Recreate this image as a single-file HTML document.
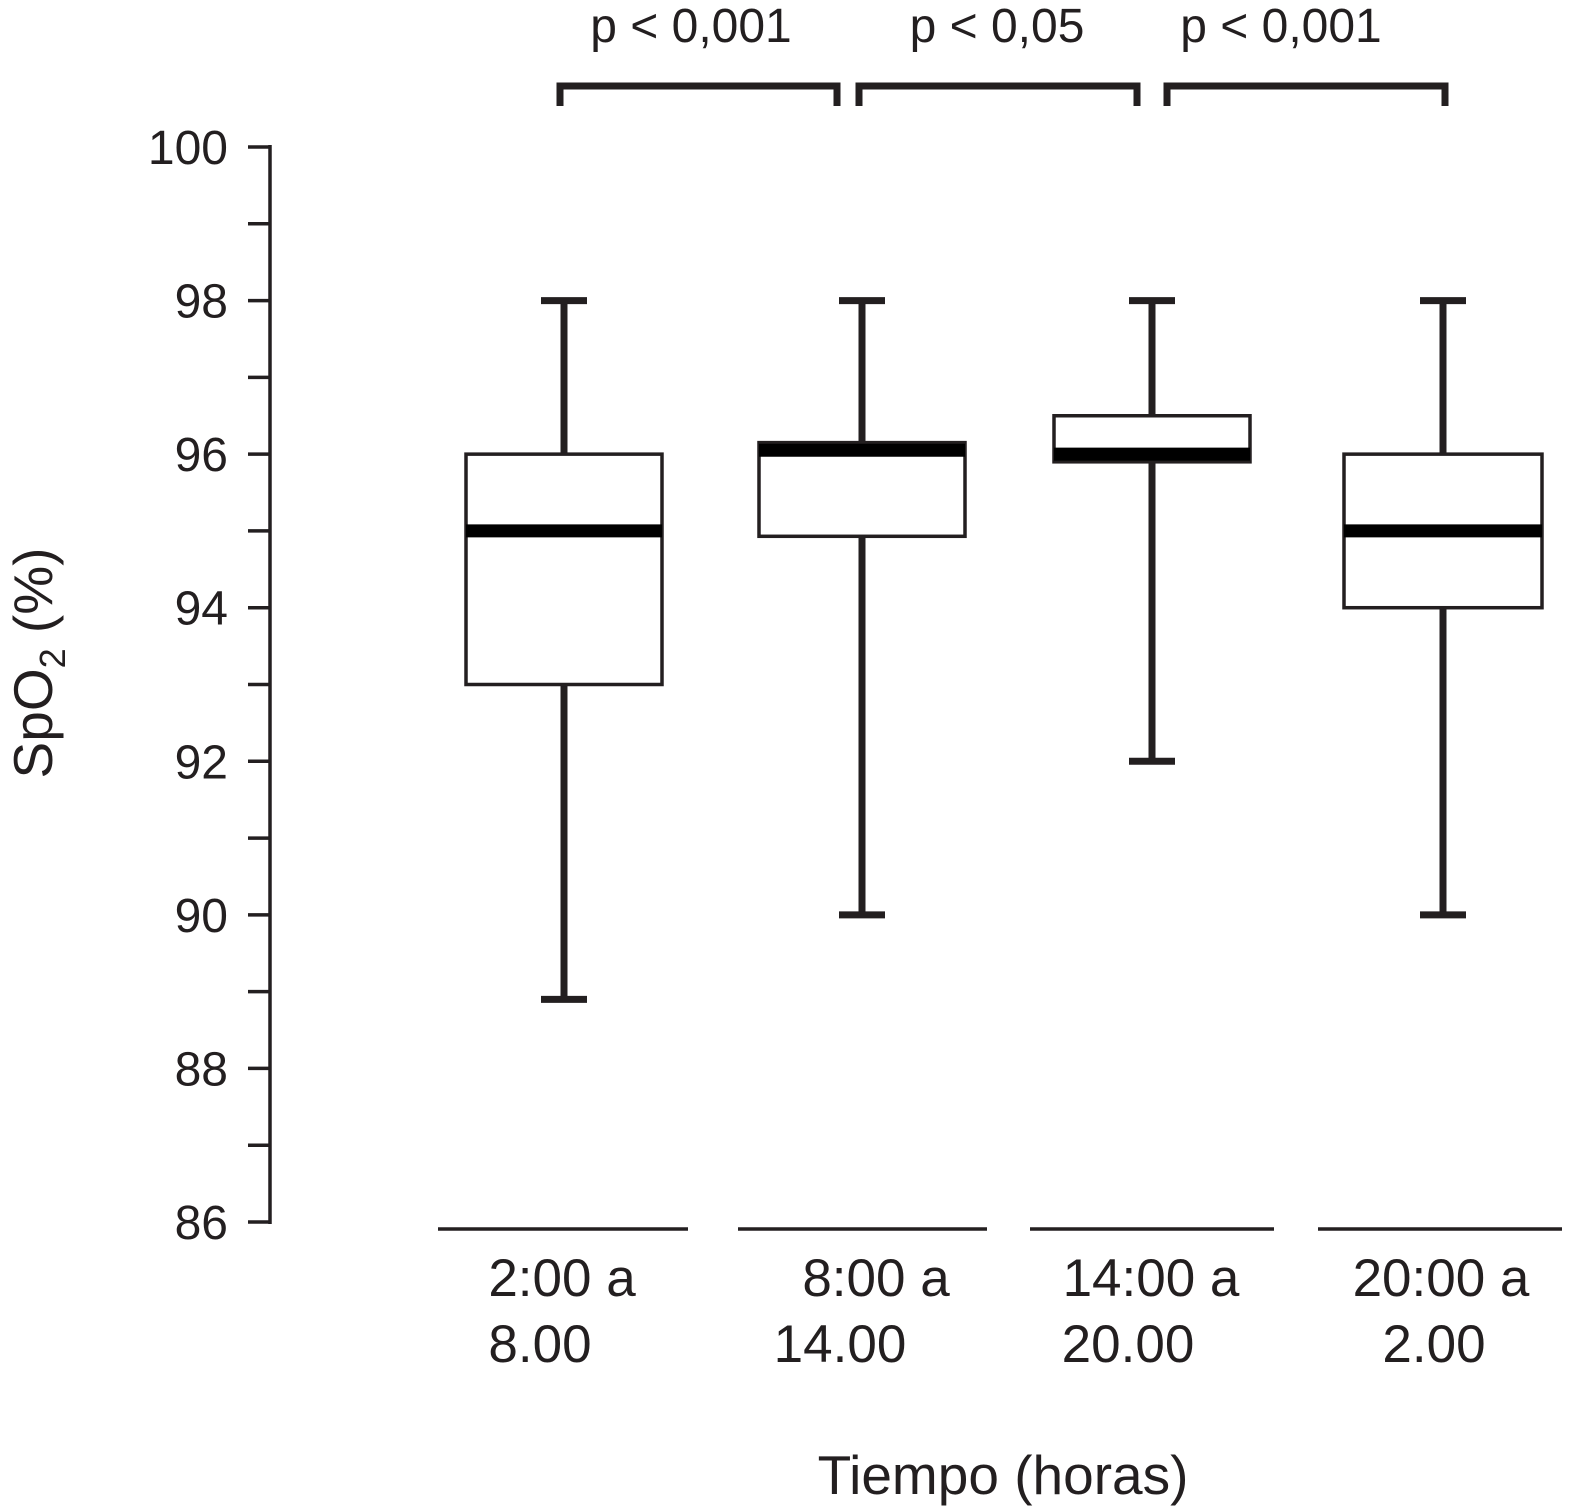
<!DOCTYPE html>
<html><head><meta charset="utf-8"><style>
html,body{margin:0;padding:0;background:#fff;}
svg{display:block;font-family:"Liberation Sans",sans-serif;}
</style></head><body>
<svg id="chart" width="1569" height="1508" viewBox="0 0 1569 1508">
<g id="axis"></g>
<g id="boxes"></g>
<g id="xlab"></g>
<g id="brk"></g>
<text x="0" y="0" transform="translate(52,663) rotate(-90)" text-anchor="middle" font-size="55" fill="#231f20">SpO<tspan font-size="36" dy="13">2</tspan><tspan dy="-13"> (%)</tspan></text>
<text x="1003" y="1494" text-anchor="middle" font-size="55" fill="#231f20">Tiempo (horas)</text>
</svg>
<script>
const categories = [["2:00 a","8.00"],["8:00 a","14.00"],["14:00 a","20.00"],["20:00 a","2.00"]];
const whiskerLow = [88.9, 90, 92, 90];
const q1 = [93, 94.93, 95.9, 94];
const median = [95, 96.05, 96, 95];
const q3 = [96, 96.15, 96.5, 96];
const whiskerHigh = [98, 98, 98, 98];
const yTicks = [86,88,90,92,94,96,98,100];
const pLabels = ["p < 0,001","p < 0,05","p < 0,001"];

const NS="http://www.w3.org/2000/svg";
const C="#231f20";
const y = v => 147 + (100 - v) * (1222 - 147) / 14;
const centers=[564,862,1152,1443];
const xc = i => centers[i];
function mk(tag, attrs, parent){const e=document.createElementNS(NS,tag);for(const k in attrs)e.setAttribute(k,attrs[k]);parent.appendChild(e);return e;}
const ax=document.getElementById('axis');
mk('line',{x1:270,y1:y(100)-2,x2:270,y2:y(86)+2,stroke:C,'stroke-width':3.5},ax);
for(let v=86;v<=100;v++){
  const t=mk('line',{x1:248,x2:270,y1:y(v),y2:y(v),stroke:C,'stroke-width':3.5},ax);
  
  
}
yTicks.forEach(v=>{
  const t=mk('text',{x:228,y:y(v)+17,'text-anchor':'end','font-size':48,fill:C},ax);
  t.textContent=v;
  
  
});
const bx=document.getElementById('boxes');
const halfW=[98,103,98,99];
categories.forEach((c,i)=>{
  const x=xc(i);
  const g=mk('g',{},bx);
  
  
  mk('line',{x1:x,x2:x,y1:y(whiskerHigh[i]),y2:y(whiskerLow[i]),stroke:C,'stroke-width':7},g);
  mk('line',{x1:x-23,x2:x+23,y1:y(whiskerHigh[i]),y2:y(whiskerHigh[i]),stroke:C,'stroke-width':7},g);
  mk('line',{x1:x-23,x2:x+23,y1:y(whiskerLow[i]),y2:y(whiskerLow[i]),stroke:C,'stroke-width':7},g);
  mk('rect',{x:x-halfW[i],y:y(q3[i]),width:2*halfW[i],height:y(q1[i])-y(q3[i]),fill:'#fff',stroke:C,'stroke-width':3.5},g);
  mk('line',{x1:x-halfW[i],x2:x+halfW[i],y1:y(median[i]),y2:y(median[i]),stroke:'#000','stroke-width':13},g);
});
const xl=document.getElementById('xlab');
const segs=[[438,688],[738,987],[1030,1274],[1318,1562]];
const lblX=[[562,540],[876,840],[1151,1128],[1441,1434]];
categories.forEach((c,i)=>{
  mk('line',{x1:segs[i][0],x2:segs[i][1],y1:1229,y2:1229,stroke:C,'stroke-width':3.5},xl);
  const t1=mk('text',{x:lblX[i][0],y:1296,'text-anchor':'middle','font-size':53,fill:C},xl);
  t1.textContent=c[0];
  
  
  const t2=mk('text',{x:lblX[i][1],y:1362,'text-anchor':'middle','font-size':53,fill:C},xl);
  t2.textContent=c[1];
  
  
});
const br=document.getElementById('brk');
const bsp=[[560,837],[859,1137],[1167,1445]];
const pX=[691,997,1281];
pLabels.forEach((p,i)=>{
  const [a,b]=bsp[i];
  const pth=mk('path',{d:`M${a} 106 V86 H${b} V106`,fill:'none',stroke:C,'stroke-width':7},br);
  
  
  const t=mk('text',{x:pX[i],y:42,'text-anchor':'middle','font-size':48,fill:C},br);
  t.textContent=p;
  
  
});
</script>
</body></html>
